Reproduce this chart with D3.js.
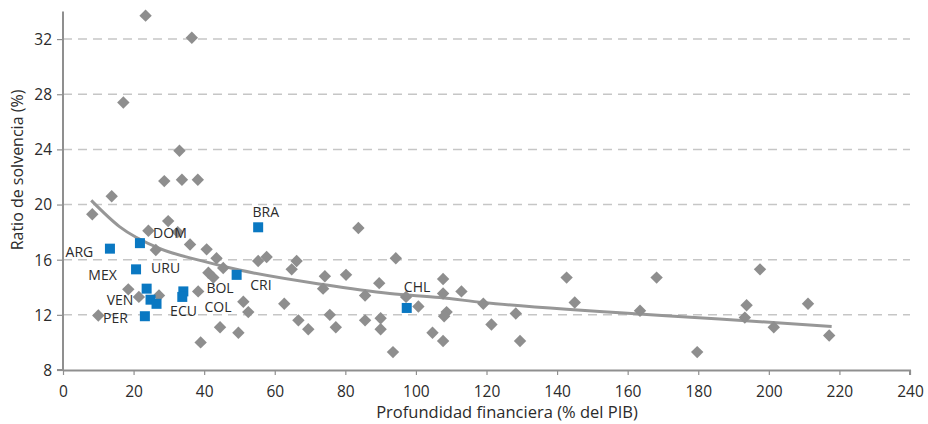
<!DOCTYPE html>
<html>
<head>
<meta charset="utf-8">
<script src="https://cdn.jsdelivr.net/npm/d3@7"></script>
<style>
  html, body { margin: 0; padding: 0; background: #fff; }
  svg { display: block; font-family: "Open Sans", "Noto Sans", sans-serif; }
</style>
</head>
<body>
<svg id="chart" width="928" height="424"></svg>
<script>
// ---- Data ----
const xTicks = [0, 20, 40, 60, 80, 100, 120, 140, 160, 180, 200, 220, 240];
const yTicks = [8, 12, 16, 20, 24, 28, 32];

// Other countries (gray diamonds): [financial depth, solvency ratio]
const otherX = [23.4, 36.5, 17.1, 33, 28.7, 33.7, 38.2,
  13.8, 8.3, 29.8, 24.2, 32.5, 36, 26.3, 40.7, 43.5, 45.4, 41.2, 42.6, 55.3, 57.7,
  18.5, 21.5, 27.2, 38.3, 10.0, 51.1, 52.5, 44.5, 49.7, 39,
  83.7, 66.2, 64.8, 94.3, 74.2, 80.2, 73.7, 89.6, 85.6, 97.2, 100.7, 62.7, 75.6, 66.7, 69.5, 77.3, 85.6, 90, 90, 104.7, 93.5,
  107.7, 142.7, 112.9, 107.7, 119.1, 145, 108.7, 108, 128.3, 121.4, 107.7, 129.5, 163.5,
  168.2, 197.5, 193.7, 211.1, 193.2, 201.4, 217.1, 179.7];
const otherY = [33.7, 32.1, 27.4, 23.9, 21.7, 21.8, 21.8,
  20.6, 19.3, 18.8, 18.1, 18.0, 17.1, 16.7, 16.75, 16.1, 15.4, 15.05, 14.7, 15.9, 16.2,
  13.85, 13.3, 13.4, 13.7, 11.95, 12.95, 12.2, 11.1, 10.7, 10.0,
  18.3, 15.9, 15.3, 16.1, 14.8, 14.9, 13.9, 14.3, 13.4, 13.3, 12.6, 12.8, 12.0, 11.6, 10.95, 11.1, 11.6, 11.75, 10.95, 10.7, 9.3,
  14.6, 14.7, 13.7, 13.55, 12.8, 12.9, 12.2, 11.9, 12.1, 11.3, 10.1, 10.1, 12.3,
  14.7, 15.3, 12.7, 12.8, 11.8, 11.1, 10.5, 9.3];

// Latin American countries (blue squares)
const latamNames = ["ARG", "DOM", "MEX", "URU", "VEN", "ECU", "BOL", "COL", "PER", "BRA", "CRI", "CHL"];
const latamX = [13.3, 21.8, 20.7, 23.7, 24.8, 26.5, 34.1, 33.8, 23.2, 55.3, 49.2, 97.4];
const latamY = [16.8, 17.2, 15.3, 13.9, 13.1, 12.8, 13.7, 13.3, 11.9, 18.35, 14.9, 12.5];

// Trend line
const trendX = [8, 16, 27.5, 38.8, 50, 73.7, 92.6, 106.8, 119, 142.7, 157.8, 186, 217.8];
const trendY = [20.3, 18.4, 16.8, 15.95, 15.25, 14.2, 13.55, 13.25, 12.9, 12.4, 12.15, 11.7, 11.15];

// ---- Layout ----
const labelOffsets = {
  ARG: [-30.5, 3.7], DOM: [30, -10], MEX: [-33.5, 5.7], URU: [19, -21],
  VEN: [-30.5, 0.5], ECU: [27, 7.5], BOL: [36.7, -3], COL: [35.7, 10.3],
  PER: [-29.5, 2], BRA: [7.7, -15.3], CRI: [24.3, 10], CHL: [10.3, -21.3]
};

const svg = d3.select("#chart");
const x = d3.scaleLinear().domain([0, 240]).range([63, 910]);
const y = d3.scaleLinear().domain([8, 34]).range([370, 11.5]);

const axisColor = "#8f8f8f";
const textColor = "#2b2b2b";

// Grid lines
svg.append("g").selectAll("line")
  .data(yTicks.filter(d => d > 8))
  .join("line")
  .attr("x1", x(0)).attr("x2", x(240))
  .attr("y1", d => y(d)).attr("y2", d => y(d))
  .attr("stroke", "#c6c6c6").attr("stroke-width", 1.5)
  .attr("stroke-dasharray", "9,6");

// Axes
const xAxis = svg.append("g")
  .attr("transform", `translate(0,${y(8)})`)
  .call(d3.axisBottom(x).tickValues(xTicks).tickSize(5).tickPadding(8).tickFormat(d3.format("d")));
const yAxis = svg.append("g")
  .attr("transform", `translate(${x(0)},0)`)
  .call(d3.axisLeft(y).tickValues(yTicks).tickSize(6).tickPadding(5).tickFormat(d3.format("d")));

[xAxis, yAxis].forEach(g => {
  g.select(".domain").attr("stroke", axisColor).attr("stroke-width", 2);
  g.selectAll(".tick line").attr("stroke", axisColor).attr("stroke-width", 1.2);
  g.selectAll(".tick text").attr("fill", textColor).style("font-size", "15.5px")
    .style("font-family", "'Open Sans', sans-serif");
});
xAxis.select(".domain").attr("d", `M${x(0)},0.5H${x(240)}V5`);
yAxis.select(".domain").attr("d", `M-6,${y(8)}H0V${y(34)}`);
xAxis.selectAll(".tick text").attr("dy", "0.9em");
yAxis.selectAll(".tick text").attr("dy", "0.35em");

// Trend line
const trendData = trendX.map((d, i) => [d, trendY[i]]);
svg.append("path")
  .datum(trendData)
  .attr("fill", "none")
  .attr("stroke", "#979797")
  .attr("stroke-width", 3)
  .attr("d", d3.line().x(d => x(d[0])).y(d => y(d[1])).curve(d3.curveMonotoneX));

// Diamonds
const otherData = otherX.map((d, i) => [d, otherY[i]]);
const dsz = 6.2;
svg.append("g").selectAll("path")
  .data(otherData)
  .join("path")
  .attr("transform", d => `translate(${x(d[0])},${y(d[1])})`)
  .attr("d", `M0,${-dsz}L${dsz},0L0,${dsz}L${-dsz},0Z`)
  .attr("fill", "#8e8e8e");

// Blue squares
const latamData = latamNames.map((n, i) => ({ name: n, x: latamX[i], y: latamY[i] }));
const s = 10;
svg.append("g").selectAll("rect")
  .data(latamData)
  .join("rect")
  .attr("x", d => x(d.x) - s / 2)
  .attr("y", d => y(d.y) - s / 2)
  .attr("width", s).attr("height", s)
  .attr("fill", "#0a78c2");

// Labels
svg.append("g").selectAll("text")
  .data(latamData)
  .join("text")
  .attr("x", d => x(d.x) + labelOffsets[d.name][0])
  .attr("y", d => y(d.y) + labelOffsets[d.name][1])
  .attr("text-anchor", "middle")
  .attr("dy", "0.36em")
  .attr("fill", textColor)
  .style("font-size", "14px")
  .text(d => d.name);

// Axis titles
svg.append("text")
  .attr("x", 507).attr("y", 418)
  .attr("text-anchor", "middle")
  .attr("fill", textColor)
  .style("font-size", "16.5px")
  .text("Profundidad financiera (% del PIB)");

svg.append("text")
  .attr("transform", `translate(23,170) rotate(-90)`)
  .attr("text-anchor", "middle")
  .attr("fill", textColor)
  .style("font-size", "16px")
  .text("Ratio de solvencia (%)");
</script>
</body>
</html>
